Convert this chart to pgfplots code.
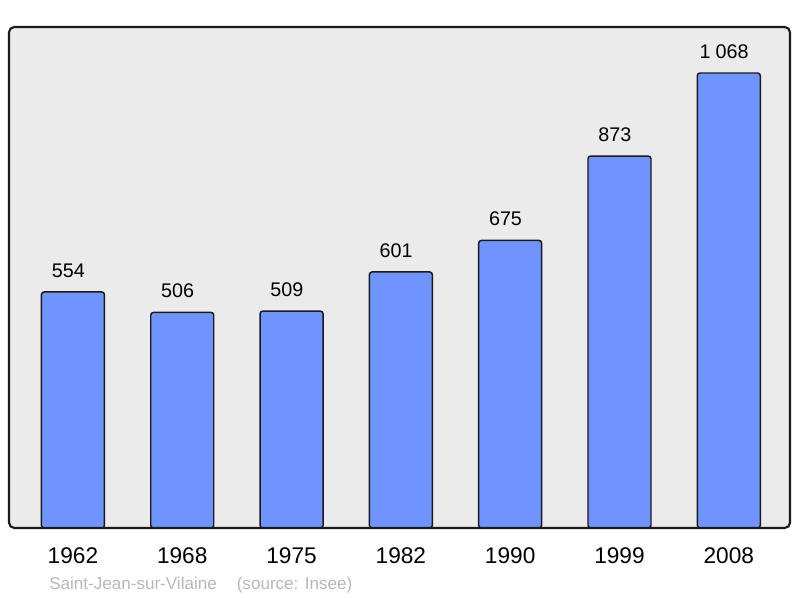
\documentclass[border=0pt]{standalone}
\usepackage{pgfplots}
\pgfplotsset{compat=1.18}
\usepackage{fontspec}
\setmainfont{Liberation Sans}
\definecolor{barcol}{HTML}{7094FF}
\definecolor{bgcol}{HTML}{EBEBEB}
\definecolor{framecol}{HTML}{1A1A1A}
\definecolor{srccol}{HTML}{B8B8B8}
\begin{document}
\begin{tikzpicture}
\useasboundingbox (-6.75pt,-52.5pt) rectangle (593.25pt,396pt);
\begin{axis}[
  at={(0,0)}, anchor=south west,
  scale only axis,
  width=585.75pt, height=375.75pt,
  xmin=-0.585, xmax=6.56,
  ymin=0, ymax=1176,
  axis line style={draw=none},
  axis background/.style={fill=bgcol, rounded corners=4pt},
  ytick=\empty,
  xtick={0,1,2,3,4,5,6},
  xticklabels={1962,1968,1975,1982,1990,1999,2008},
  major tick length=0pt,
  xticklabel style={anchor=base, yshift=-27pt, font=\fontsize{17}{20}\selectfont},
  ybar, bar width=47.25pt,
  nodes near coords,
  every node near coord/.append style={anchor=base, yshift=11pt, xshift=-3.5pt, font=\fontsize{14.8}{17}\selectfont},
  /pgf/number format/.cd, 1000 sep={\hspace{3.8pt}}, assume math mode=true, /pgfplots/.cd,
  clip=false,
]
\addplot[fill=barcol, draw=framecol, line width=1.1pt, rounded corners=2pt, bar shift=0pt]
  coordinates {(0,554) (1,506) (2,509) (3,601) (4,675) (5,873) (6,1068)};
\draw[framecol, line width=1.6pt, rounded corners=4pt] (rel axis cs:0,0) rectangle (rel axis cs:1,1);
\end{axis}
\node[anchor=base west, inner sep=0pt, text=srccol, font=\fontsize{12.8}{15}\selectfont] at (30pt,-46.5pt) {Saint-Jean-sur-Vilaine\hspace{15pt}(source: Insee)};
\end{tikzpicture}
\end{document}
